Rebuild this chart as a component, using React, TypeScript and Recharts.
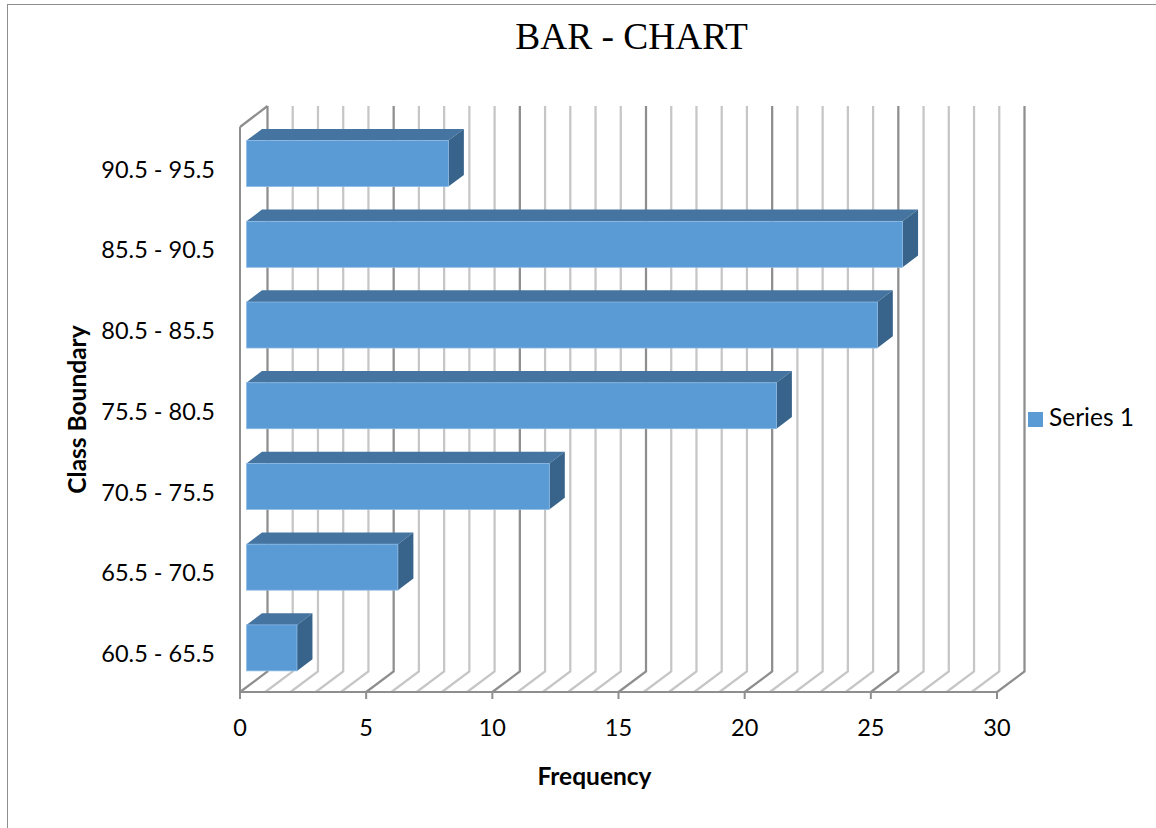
import React from 'react';
import { BarChart, Bar, XAxis, YAxis, CartesianGrid, Legend } from 'recharts';

const categories = ['90.5 - 95.5', '85.5 - 90.5', '80.5 - 85.5', '75.5 - 80.5', '70.5 - 75.5', '65.5 - 70.5', '60.5 - 65.5'];
const frequencies = [8, 26, 25, 21, 12, 6, 2];
const axisTicks = [0, 5, 10, 15, 20, 25, 30];
const gridValues = [0, 1, 2, 3, 4, 5, 6, 7, 8, 9, 10, 11, 12, 13, 14, 15, 16, 17, 18, 19, 20, 21, 22, 23, 24, 25, 26, 27, 28, 29, 30];

const data = categories.map((name, i) => ({ name, frequency: frequencies[i] }));

const FONT = 'Lato, sans-serif';
const MAJOR = '#8e8e8e';
const MINOR = '#c6c6c6';

// fake 3D: how far the back wall sits from the front plane
const WALL_DX = 27.5;
const WALL_DY = 20.5;
const WALL_TOP = 106;

// bars stand part way into the depth of the box
const BAR_SHIFT_X = 6.5;
const BAR_SHIFT_Y = -3.4;
const BAR_DX = 15.5;
const BAR_DY = 11.7;

function WallLine(props: any) {
  const { x1, y1, y2, index } = props;
  const major = index % 5 === 0;
  const d = `M${x1},${y2} L${x1 + WALL_DX},${y2 - WALL_DY} L${x1 + WALL_DX},${WALL_TOP}`;
  return (
    <g key={`wall-${index}`}>
      <path d={d} fill="none" stroke={major ? MAJOR : MINOR} strokeWidth={2.25} />
      {index === 0 && (
        <path d={`M${x1},${y1} L${x1 + WALL_DX},${WALL_TOP}`} fill="none" stroke={MAJOR} strokeWidth={2.25} />
      )}
    </g>
  );
}

function Box3D(props: any) {
  const { x, y, width, height } = props;
  const l = x + BAR_SHIFT_X;
  const t = y + BAR_SHIFT_Y;
  const r = l + width;
  const b = t + height;
  return (
    <g>
      <polygon points={`${l},${t} ${l + BAR_DX},${t - BAR_DY} ${r + BAR_DX},${t - BAR_DY} ${r},${t}`} fill="#44749f" />
      <polygon points={`${r},${t} ${r + BAR_DX},${t - BAR_DY} ${r + BAR_DX},${b - BAR_DY} ${r},${b}`} fill="#38648b" />
      <rect x={l} y={t} width={width} height={height} fill="#5b9bd5" stroke="#8dbbe6" strokeWidth={0.75} />
    </g>
  );
}

export default function App() {
  return (
    <div style={{ position: 'absolute', left: 0, top: 0, width: 1156, height: 828, background: '#fff' }}>
      {/* chart frame, only top and left edges are visible */}
      <div style={{ position: 'absolute', left: 7, top: 4, right: 0, bottom: 0, borderTop: '1.5px solid #8e8e8e', borderLeft: '1.5px solid #8e8e8e' }} />
      <div style={{ position: 'absolute', left: 0, width: 1263, top: 12, textAlign: 'center', fontFamily: '"Liberation Serif", serif', fontSize: 37.4, color: '#000', lineHeight: '50px' }}>
        BAR - CHART
      </div>
      <BarChart
        width={1156}
        height={828}
        data={data}
        layout="vertical"
        margin={{ top: 127, right: 39, bottom: 0, left: 0 }}
        style={{ position: 'absolute', left: 0, top: 0 }}
      >
        <CartesianGrid horizontal={false} verticalValues={gridValues} vertical={WallLine} />
        <XAxis
          type="number"
          domain={[0, 30]}
          ticks={axisTicks}
          interval={0}
          height={136}
          stroke={MAJOR}
          strokeWidth={2}
          tickSize={7}
          tickMargin={20}
          tick={{ fontSize: 23.5, fontFamily: FONT, fill: '#000' }}
          label={{ value: 'Frequency', position: 'insideTop', offset: 76, dx: -24, style: { fontSize: 24.5, fontWeight: 700, fontFamily: FONT, fill: '#000' } }}
        />
        <YAxis
          type="category"
          dataKey="name"
          width={240}
          stroke={MAJOR}
          strokeWidth={2}
          tickLine={false}
          tickSize={0}
          tickMargin={25}
          interval={0}
          tick={{ fontSize: 23.5, fontFamily: FONT, fill: '#000', dy: 2 }}
          label={{ value: 'Class Boundary', angle: -90, position: 'insideLeft', offset: 77, style: { fontSize: 24.5, fontWeight: 700, fontFamily: FONT, fill: '#000', textAnchor: 'middle' } }}
        />
        <Legend
          layout="vertical"
          align="right"
          verticalAlign="top"
          iconType="square"
          iconSize={15}
          wrapperStyle={{ left: 1028, top: 402, width: 120, fontSize: 24.5, fontFamily: FONT }}
          formatter={(value: string) => <span style={{ color: '#000', marginLeft: 2 }}>{value}</span>}
        />
        <Bar dataKey="frequency" name="Series 1" fill="#5b9bd5" barSize={46} shape={Box3D} isAnimationActive={false} />
      </BarChart>
    </div>
  );
}
